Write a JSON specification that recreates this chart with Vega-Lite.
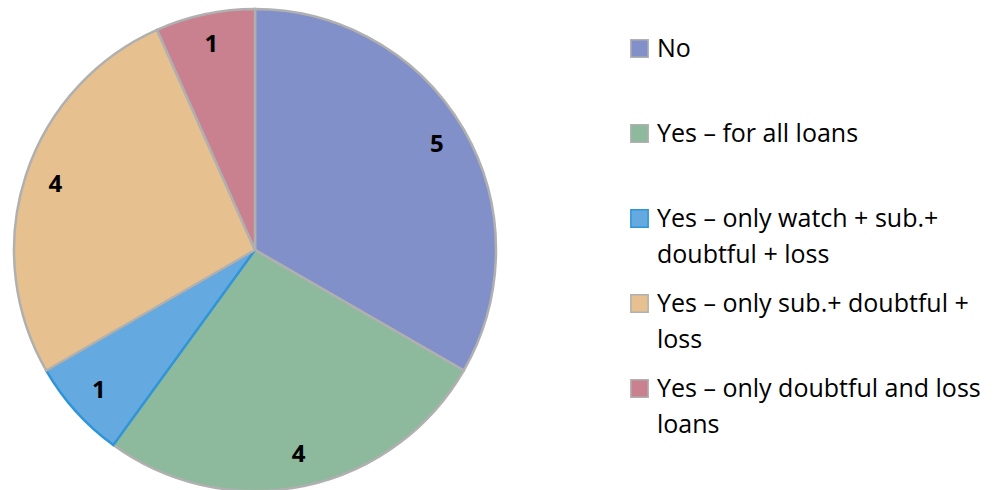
{
  "$schema": "https://vega.github.io/schema/vega-lite/v6.json",
  "width": 510,
  "height": 500,
  "padding": {"left": 0, "top": 0, "right": 485, "bottom": 0},
  "autosize": "none",
  "background": "white",
  "config": {
    "view": {"stroke": null},
    "font": "Open Sans",
    "style": {"guide-label": {"lineHeight": 36.5}}
  },
  "data": {
    "values": [
      {"cat": "No| ", "value": 5, "order": 1},
      {"cat": "Yes – for all loans| ", "value": 4, "order": 2},
      {"cat": "Yes – only watch + sub.+|doubtful + loss", "value": 1, "order": 3},
      {"cat": "Yes – only sub.+ doubtful +|loss", "value": 4, "order": 4},
      {"cat": "Yes – only doubtful and loss|loans", "value": 1, "order": 5}
    ]
  },
  "encoding": {
    "theta": {"field": "value", "type": "quantitative", "stack": true},
    "order": {"field": "order", "type": "quantitative"}
  },
  "layer": [
    {
      "mark": {"type": "arc", "outerRadius": 241, "strokeWidth": 2.5},
      "encoding": {
        "color": {
          "field": "cat",
          "type": "nominal",
          "sort": {"field": "order"},
          "scale": {
            "domain": ["No| ", "Yes – for all loans| ", "Yes – only watch + sub.+|doubtful + loss", "Yes – only sub.+ doubtful +|loss", "Yes – only doubtful and loss|loans"],
            "range": ["#8190C8", "#8DB99C", "#64A9E0", "#E6C18F", "#C9808F"]
          },
          "legend": {
            "orient": "none",
            "legendX": 627,
            "legendY": 36,
            "title": null,
            "symbolType": "square",
            "symbolSize": 300,
            "symbolStrokeColor": "#a0a0a0",
            "symbolStrokeWidth": 1.5,
            "labelFont": "Open Sans",
            "labelFontSize": 25,
            "labelColor": "#000000",
            "labelLimit": 400,
            "labelOffset": 5,
            "rowPadding": 23,
            "labelExpr": "split(datum.label, '|')"
          }
        },
        "stroke": {
          "field": "cat",
          "type": "nominal",
          "scale": {
            "domain": ["No| ", "Yes – for all loans| ", "Yes – only watch + sub.+|doubtful + loss", "Yes – only sub.+ doubtful +|loss", "Yes – only doubtful and loss|loans"],
            "range": ["#b0b0b0", "#b0b0b0", "#2f95d8", "#b0b0b0", "#b0b0b0"]
          },
          "legend": null
        }
      }
    },
    {
      "mark": {"type": "text", "radius": 210, "fontSize": 24, "fontWeight": "bold", "font": "Open Sans", "color": "#000000"},
      "encoding": {"text": {"field": "value", "type": "quantitative"}}
    }
  ]
}
